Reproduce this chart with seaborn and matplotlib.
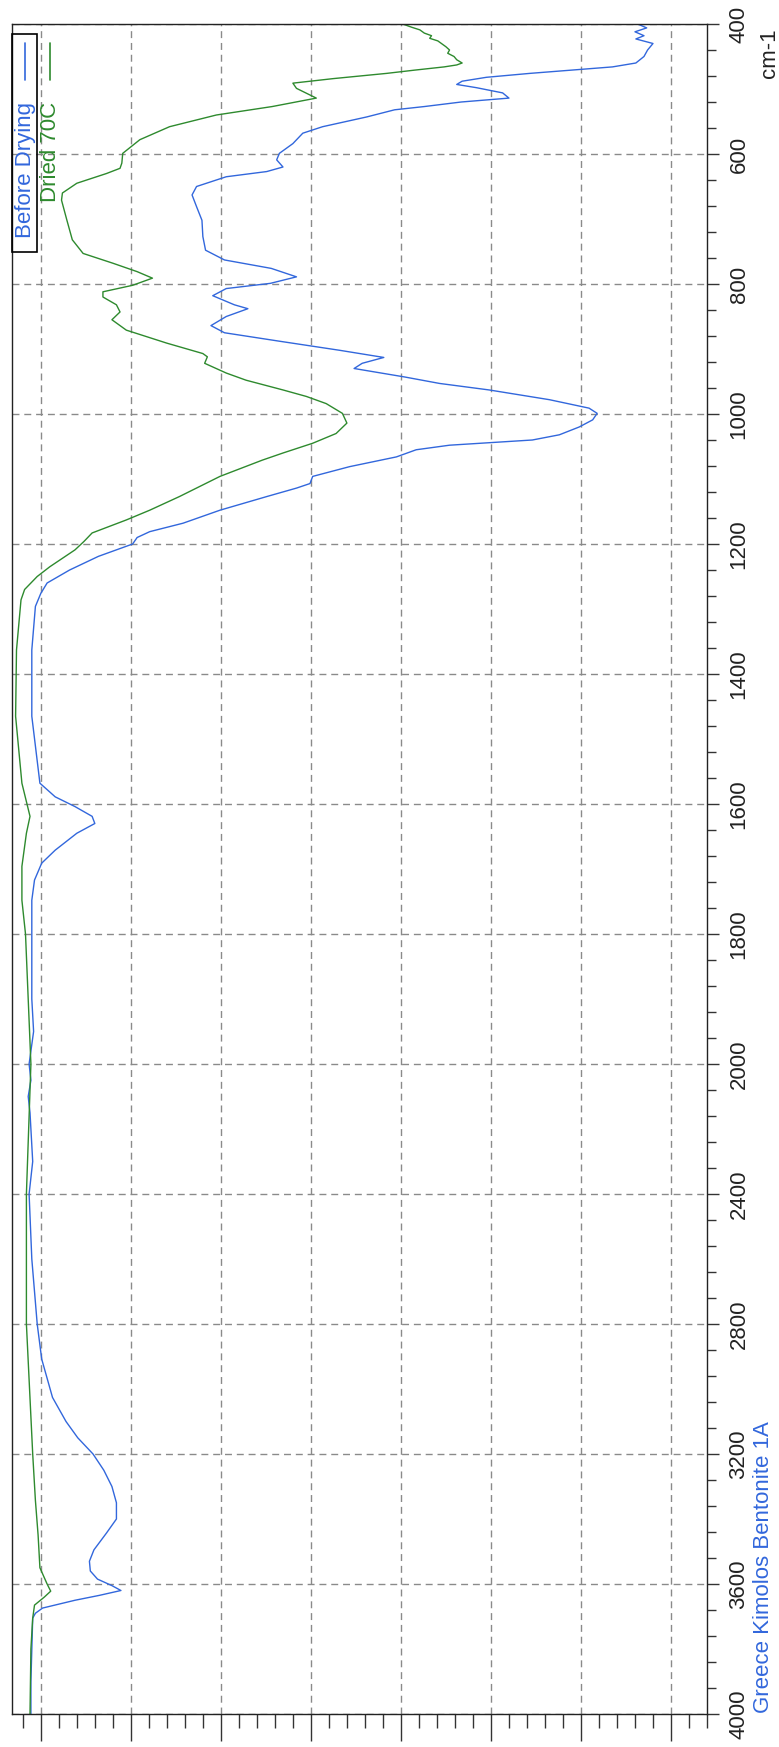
import numpy as np
import pandas as pd
import matplotlib
matplotlib.use("Agg")
import matplotlib.pyplot as plt
from matplotlib.ticker import FixedLocator, NullFormatter
from matplotlib.lines import Line2D
from matplotlib.patches import Rectangle
import seaborn as sns

# ---------------- data (wavenumber cm-1, %T) ----------------
before_wn = [400, 406, 412, 418, 423, 430, 440, 450, 460, 466, 470, 476, 482, 488, 493,
             498, 506, 514, 520, 527, 532, 543, 558, 568, 584, 599, 609, 620, 627, 635,
             650, 663, 681, 702, 727, 748, 763, 776, 789, 799, 807, 818, 832, 838, 850,
             864, 875, 888, 902, 913, 922, 930, 943, 953, 963, 978, 991, 999, 1009, 1020,
             1032, 1040, 1048, 1055, 1066, 1081, 1096, 1107, 1114, 1127, 1148, 1168,
             1181, 1190, 1200, 1219, 1240, 1260, 1276, 1296, 1363, 1465, 1568, 1589,
             1604, 1619, 1630, 1645, 1671, 1691, 1717, 1748, 1800, 1900, 1950, 2000,
             2050, 2100, 2150, 2250, 2300, 2400, 2600, 2800, 2908, 3026, 3100, 3150,
             3200, 3250, 3300, 3350, 3400, 3443, 3495, 3530, 3560, 3585, 3605, 3620,
             3635, 3650, 3674, 3690, 3705, 3800, 3900, 4000]
before_t = [23.7, 22.7, 24.0, 23.0, 23.9, 22.0, 22.6, 23.0, 23.9, 26.5, 30.2, 35.7, 40.5,
            43.2, 43.8, 41.6, 38.7, 38.0, 43.3, 47.4, 50.7, 53.8, 58.7, 60.9, 62.0, 63.5,
            63.8, 63.1, 64.9, 69.4, 72.7, 73.2, 72.7, 72.1, 72.0, 71.7, 69.6, 64.4, 61.6,
            64.5, 69.4, 70.9, 68.5, 67.0, 69.4, 71.1, 69.6, 63.5, 56.8, 51.9, 54.3, 55.2,
            49.6, 45.7, 40.2, 33.5, 29.1, 28.2, 28.7, 30.2, 32.4, 35.4, 44.6, 48.3, 50.5,
            55.7, 59.8, 60.1, 61.6, 64.9, 70.1, 74.2, 77.9, 79.3, 79.8, 83.6, 86.8, 89.3,
            90.0, 90.6, 91.0, 91.0, 90.1, 88.4, 86.2, 84.3, 84.0, 86.0, 88.4, 89.9, 90.7,
            91.0, 91.0, 91.0, 90.8, 91.3, 91.1, 91.4, 91.2, 91.0, 90.9, 91.3, 91.0, 90.4,
            89.9, 88.7, 87.2, 85.9, 84.2, 83.0, 82.1, 81.6, 81.6, 82.7, 84.1, 84.6, 84.5,
            83.7, 82.1, 81.1, 83.5, 86.2, 89.8, 90.6, 90.9, 91.0, 91.1, 91.1]

dried_wn = [400, 405, 409, 414, 418, 422, 426, 430, 435, 440, 445, 450, 455, 460, 463,
            466, 471, 476, 484, 491, 499, 514, 527, 540, 558, 578, 599, 614, 622, 630,
            645, 660, 671, 702, 732, 753, 768, 781, 791, 802, 812, 820, 832, 843, 855,
            871, 891, 907, 912, 922, 937, 948, 963, 973, 984, 999, 1014, 1030, 1045,
            1060, 1071, 1096, 1127, 1148, 1163, 1183, 1196, 1209, 1235, 1250, 1270,
            1286, 1363, 1465, 1568, 1619, 1645, 1696, 1748, 1800, 1900, 2000, 2400,
            2800, 3200, 3343, 3450, 3550, 3600, 3622, 3640, 3665, 3705, 3800, 4000]
dried_t = [49.8, 48.8, 47.9, 47.4, 46.6, 46.8, 45.9, 45.5, 45.0, 44.6, 44.8, 44.1, 43.8,
           43.2, 43.8, 45.2, 48.5, 51.6, 57.5, 62.0, 61.6, 59.4, 64.3, 70.5, 75.7, 79.0,
           80.9, 81.0, 81.2, 82.7, 86.0, 87.6, 87.7, 87.1, 86.5, 85.3, 82.0, 79.3, 77.6,
           79.8, 83.1, 83.1, 81.6, 81.2, 82.1, 80.5, 76.0, 72.0, 71.5, 71.8, 69.4, 67.2,
           63.1, 60.5, 58.3, 56.5, 56.0, 57.2, 59.8, 63.1, 65.4, 70.1, 74.6, 77.9, 80.5,
           84.3, 85.2, 86.2, 89.0, 90.4, 91.8, 92.2, 92.7, 92.8, 92.1, 91.2, 91.6, 92.1,
           92.1, 91.7, 91.4, 91.1, 91.6, 91.6, 90.9, 90.6, 90.3, 90.1, 89.3, 88.9, 89.6,
           90.7, 90.9, 91.1, 91.2]

series_names = ["Before Drying", "Dried 70C"]
wn_major = [400, 600, 800, 1000, 1200, 1400, 1600, 1800, 2000, 2400, 2800, 3200, 3600, 4000]
title = "Greece Kimolos Bentonite 1A"
unit_label = "cm-1"

# ---------------- styling ----------------
BLUE = "#3267dc"
GREEN = "#2e8a2e"
W, H = 779, 1747

sns.set_style("white")
plt.rcParams["font.family"] = ["Liberation Sans", "DejaVu Sans"]

df = pd.concat([
    pd.DataFrame({"wn": before_wn, "T": before_t, "series": series_names[0]}),
    pd.DataFrame({"wn": dried_wn, "T": dried_t, "series": series_names[1]}),
], ignore_index=True)

fig = plt.figure(figsize=(W / 100, H / 100), dpi=100)
ax = fig.add_axes([12 / W, 1 - 1714 / H, (707 - 12) / W, (1714 - 24) / H])

sns.lineplot(data=df, x="T", y="wn", hue="series", palette=[BLUE, GREEN],
             sort=False, estimator=None, legend=False, lw=1.0, ax=ax)


def fwd(w):
    w = np.asarray(w, dtype=float)
    return np.where(w <= 2000, (w - 400) / 200.0, 8 + (w - 2000) / 400.0)


def inv(p):
    p = np.asarray(p, dtype=float)
    return np.where(p <= 8, 400 + 200.0 * p, 2000 + 400.0 * (p - 8))


ax.set_yscale("function", functions=(fwd, inv))
ax.set_ylim(4000, 400)
ax.set_xlim(93.2, 16)

ax.yaxis.set_major_locator(FixedLocator(wn_major))
ax.yaxis.set_minor_locator(FixedLocator(
    list(np.arange(400, 2000, 40)) + list(np.arange(2000, 4001, 80))))
ax.set_yticklabels([str(v) for v in wn_major])
ax.yaxis.set_minor_formatter(NullFormatter())
ax.yaxis.tick_right()

ax.xaxis.set_major_locator(FixedLocator(np.arange(90, 19, -10)))
ax.xaxis.set_minor_locator(FixedLocator(np.arange(92, 15, -2)))
ax.xaxis.set_major_formatter(NullFormatter())
ax.xaxis.set_minor_formatter(NullFormatter())

ax.set_xlabel("")
ax.set_ylabel("")

ax.tick_params(axis="y", which="major", direction="out", length=8.5, width=1.0,
               color="#333333", labelsize=16, labelcolor="#222222", pad=7,
               labelrotation=90, right=True, left=False)
ax.tick_params(axis="y", which="minor", direction="out", length=6.5, width=1.0,
               color="#333333", right=True, left=False)
ax.tick_params(axis="x", which="major", direction="out", length=19.5, width=1.0,
               color="#333333", bottom=True)
ax.tick_params(axis="x", which="minor", direction="out", length=10, width=1.0,
               color="#333333", bottom=True)
for lbl in ax.get_yticklabels():
    lbl.set_va("center")

ax.grid(True, which="major", linestyle=(0, (5, 3.5)), color="#8a8a8a", lw=1.0)
for s in ax.spines.values():
    s.set_color("#222222")
    s.set_linewidth(1.0)

# unit label and title
fig.text(759 / W, 1 - 53 / H, unit_label, rotation=90, ha="left", va="center",
         fontsize=16, color="#222222")
fig.text(753 / W, 1 - 1713 / H, title, rotation=90, ha="left", va="bottom",
         fontsize=16, color=BLUE)

# legend drawn in the rotated orientation
fig.patches.append(Rectangle((12 / W, 1 - 252 / H), 25 / W, (252 - 34) / H,
                             transform=fig.transFigure, fill=False,
                             edgecolor="black", lw=1.2))
fig.text(25 / W, 1 - 102 / H, series_names[0], rotation=90, ha="center", va="top",
         fontsize=16, color=BLUE)
fig.text(51 / W, 1 - 102 / H, series_names[1], rotation=90, ha="center", va="top",
         fontsize=16, color=GREEN)
fig.add_artist(Line2D([25 / W, 25 / W], [1 - 43 / H, 1 - 80 / H],
                      transform=fig.transFigure, color=BLUE, lw=1.2))
fig.add_artist(Line2D([50 / W, 50 / W], [1 - 43 / H, 1 - 80 / H],
                      transform=fig.transFigure, color=GREEN, lw=1.2))

fig.savefig("out.png", dpi=100)
